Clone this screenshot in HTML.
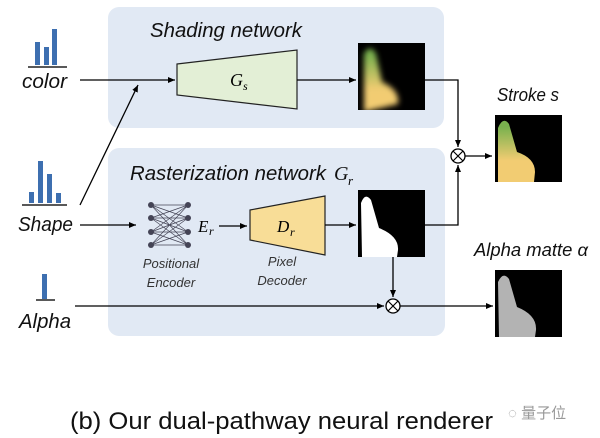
<!DOCTYPE html>
<html><head><meta charset="utf-8"><style>
html,body{margin:0;padding:0;background:#fff;}
svg{display:block;}
text{font-family:"Liberation Sans",sans-serif;}
.it{font-style:italic;}
.m{font-family:"Liberation Serif",serif;font-style:italic;}
</style></head><body>
<svg width="600" height="438" viewBox="0 0 600 438" xmlns="http://www.w3.org/2000/svg">
<defs>
<marker id="a" markerWidth="8" markerHeight="8" refX="7" refY="4" orient="auto" markerUnits="userSpaceOnUse"><path d="M0,1 L7,4 L0,7 Z" fill="#000"/></marker>
<linearGradient id="g1" x1="0" y1="0" x2="0" y2="1"><stop offset="0.1" stop-color="#79b14e"/><stop offset="0.65" stop-color="#f2cc72"/></linearGradient>
<filter id="bl" x="-50%" y="-50%" width="200%" height="200%"><feGaussianBlur stdDeviation="3"/></filter>
<clipPath id="c1"><rect x="358" y="43" width="67" height="67"/></clipPath>
</defs>
<rect x="108" y="7" width="336" height="121" rx="11" fill="#e1e9f4"/>
<rect x="108" y="148" width="337" height="188" rx="11" fill="#e1e9f4"/>
<text x="150" y="37" font-size="20" class="it" fill="#111" textLength="152" lengthAdjust="spacingAndGlyphs">Shading network</text>
<text x="130" y="180" font-size="20" class="it" fill="#111" textLength="196" lengthAdjust="spacingAndGlyphs">Rasterization network</text>
<text x="334" y="180" font-size="20" class="m" fill="#111">G</text><text x="348" y="185" font-size="13" class="m">r</text>
<!-- color icon -->
<rect x="35" y="42" width="5" height="23" fill="#3d6fb0"/><rect x="44" y="47" width="5" height="18" fill="#3d6fb0"/><rect x="52" y="29" width="5" height="36" fill="#3d6fb0"/>
<line x1="28" y1="67" x2="67" y2="67" stroke="#222" stroke-width="1.5"/>
<text x="22" y="88" font-size="20" class="it" fill="#111" textLength="45" lengthAdjust="spacingAndGlyphs">color</text>
<!-- shape icon -->
<rect x="29" y="192" width="5" height="11" fill="#3d6fb0"/><rect x="38" y="161" width="5" height="42" fill="#3d6fb0"/><rect x="47" y="174" width="5" height="29" fill="#3d6fb0"/><rect x="56" y="193" width="5" height="10" fill="#3d6fb0"/>
<line x1="22" y1="205" x2="67" y2="205" stroke="#222" stroke-width="1.5"/>
<text x="18" y="231" font-size="20" class="it" fill="#111" textLength="55" lengthAdjust="spacingAndGlyphs">Shape</text>
<!-- alpha icon -->
<rect x="42" y="274" width="5" height="25" fill="#3d6fb0"/>
<line x1="36" y1="300" x2="55" y2="300" stroke="#222" stroke-width="1.5"/>
<text x="19" y="328" font-size="20" class="it" fill="#111" textLength="52" lengthAdjust="spacingAndGlyphs">Alpha</text>
<!-- shading path -->
<line x1="80" y1="80" x2="175" y2="80" stroke="#000" stroke-width="1.3" marker-end="url(#a)"/>
<line x1="80" y1="205" x2="138" y2="85" stroke="#000" stroke-width="1.3" marker-end="url(#a)"/>
<polygon points="177,64 297,50 297,109 177,95" fill="#e3efd6" stroke="#222" stroke-width="1.2"/>
<text x="230" y="86" font-size="18" class="m">G</text><text x="243" y="90" font-size="12" class="m">s</text>
<line x1="297" y1="80" x2="356" y2="80" stroke="#000" stroke-width="1.3" marker-end="url(#a)"/>
<rect x="358" y="43" width="67" height="67" fill="#000"/>
<g clip-path="url(#c1)"><g filter="url(#bl)"><path d="M364,54 Q370,43 376,54 L382,82 Q400,90 398,104 L364,112 Z" fill="url(#g1)"/></g></g>
<polyline points="425,80 458,80 458,147" fill="none" stroke="#000" stroke-width="1.3" marker-end="url(#a)"/>
<circle cx="458" cy="156" r="7" fill="#fff" stroke="#000" stroke-width="1.3"/>
<path d="M453,151 L463,161 M463,151 L453,161" stroke="#000" stroke-width="1.2"/>
<line x1="465" y1="156" x2="492" y2="156" stroke="#000" stroke-width="1.3" marker-end="url(#a)"/>
<text x="497" y="101" font-size="18" class="it" fill="#111" textLength="62" lengthAdjust="spacingAndGlyphs">Stroke s</text>
<rect x="495" y="115" width="67" height="67" fill="#000"/>
<path d="M498,128 Q503,116 509,124 L517,152 Q535,158 535,172 L534,182 L498,182 Z" fill="url(#g1)"/>
<!-- raster path -->
<line x1="80" y1="225" x2="136" y2="225" stroke="#000" stroke-width="1.3" marker-end="url(#a)"/>
<g stroke="#445" stroke-width="0.7">
<path d="M151,205 L188,205 M151,205 L188,218 M151,205 L188,232 M151,205 L188,245 M151,218 L188,205 M151,218 L188,218 M151,218 L188,232 M151,218 L188,245 M151,232 L188,205 M151,232 L188,218 M151,232 L188,232 M151,232 L188,245 M151,245 L188,205 M151,245 L188,218 M151,245 L188,232 M151,245 L188,245"/>
</g>
<g fill="#445"><circle cx="151" cy="205" r="3"/><circle cx="151" cy="218" r="3"/><circle cx="151" cy="232" r="3"/><circle cx="151" cy="245" r="3"/><circle cx="188" cy="205" r="3"/><circle cx="188" cy="218" r="3"/><circle cx="188" cy="232" r="3"/><circle cx="188" cy="245" r="3"/></g>
<text x="198" y="232" font-size="17" class="m">E</text><text x="209" y="235" font-size="12" class="m">r</text>
<line x1="219" y1="226" x2="247" y2="226" stroke="#000" stroke-width="1.3" marker-end="url(#a)"/>
<polygon points="250,210 325,196 325,255 250,240" fill="#f8dd97" stroke="#222" stroke-width="1.2"/>
<text x="277" y="232" font-size="17" class="m">D</text><text x="290" y="236" font-size="12" class="m">r</text>
<text x="171" y="268" font-size="13" class="it" text-anchor="middle" fill="#333">Positional</text>
<text x="171" y="287" font-size="13" class="it" text-anchor="middle" fill="#333">Encoder</text>
<text x="282" y="266" font-size="13" class="it" text-anchor="middle" fill="#333">Pixel</text>
<text x="282" y="285" font-size="13" class="it" text-anchor="middle" fill="#333">Decoder</text>
<line x1="325" y1="225" x2="356" y2="225" stroke="#000" stroke-width="1.3" marker-end="url(#a)"/>
<rect x="358" y="190" width="67" height="67" fill="#000"/>
<path d="M361,203 Q365,192 371,200 L379,228 Q399,236 398,250 L397,257 L362,257 Z" fill="#fff"/>
<polyline points="425,225 458,225 458,165" fill="none" stroke="#000" stroke-width="1.3" marker-end="url(#a)"/>
<line x1="393" y1="257" x2="393" y2="297" stroke="#000" stroke-width="1.3" marker-end="url(#a)"/>
<line x1="75" y1="306" x2="384" y2="306" stroke="#000" stroke-width="1.3" marker-end="url(#a)"/>
<circle cx="393" cy="306" r="7" fill="#fff" stroke="#000" stroke-width="1.3"/>
<path d="M388,301 L398,311 M398,301 L388,311" stroke="#000" stroke-width="1.2"/>
<line x1="400" y1="306" x2="493" y2="306" stroke="#000" stroke-width="1.3" marker-end="url(#a)"/>
<text x="474" y="256" font-size="18" class="it" fill="#111" textLength="114" lengthAdjust="spacingAndGlyphs">Alpha matte α</text>
<rect x="495" y="270" width="67" height="67" fill="#000"/>
<path d="M498,282 Q503,271 509,279 L517,307 Q537,315 536,330 L535,337 L499,337 Z" fill="#b3b3b3"/>
<text x="70" y="429" font-size="24" fill="#111" textLength="423" lengthAdjust="spacingAndGlyphs">(b) Our dual-pathway neural renderer</text>
<text x="508" y="418" font-size="15" fill="#999" font-family="'Liberation Sans','Noto Sans CJK SC',sans-serif">◌ 量子位</text>
</svg>
</body></html>
